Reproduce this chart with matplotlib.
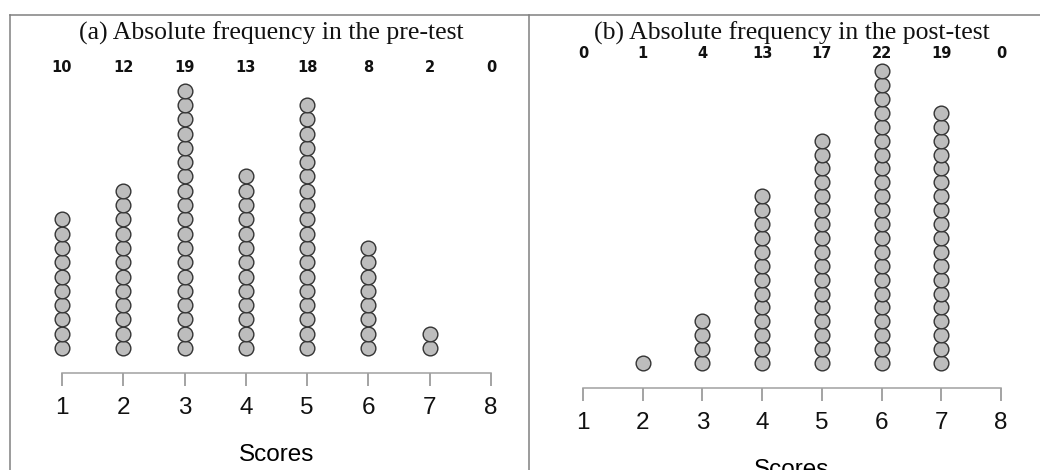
import matplotlib
matplotlib.use('Agg')
import matplotlib.pyplot as plt
from matplotlib.lines import Line2D

SCORES = [1, 2, 3, 4, 5, 6, 7, 8]
PRE_COUNTS = [10, 12, 19, 13, 18, 8, 2, 0]
POST_COUNTS = [0, 1, 4, 13, 17, 22, 19, 0]
TITLES = ['(a) Absolute frequency in the pre-test',
          '(b) Absolute frequency in the post-test']
XLABEL = 'Scores'

W, H = 1040, 470
DPI = 100

fig = plt.figure(figsize=(W / DPI, H / DPI), dpi=DPI)
fig.patch.set_facecolor('white')

# layout in pixels: left, right, axis line y, count label y, dot spacing, title x
panels = [
    dict(left=62, right=491, base=373, top=68, step=14.3, title_x=271,
         counts=PRE_COUNTS, title=TITLES[0]),
    dict(left=583, right=1001, base=388, top=53, step=13.9, title_x=792,
         counts=POST_COUNTS, title=TITLES[1]),
]

for p in panels:
    ax = fig.add_axes([p['left'] / W, (H - p['base']) / H,
                       (p['right'] - p['left']) / W, (p['base'] - p['top']) / H])
    height_px = p['base'] - p['top']
    y0 = -25 / p['step']
    ax.set_ylim(y0, y0 + height_px / p['step'])
    ax.set_xlim(1, 8)

    xs, ys = [], []
    for s, n in zip(SCORES, p['counts']):
        xs += [s] * n
        ys += list(range(n))
    ax.scatter(xs, ys, s=112, facecolor='#bdbdbd', edgecolor='#333333',
               linewidth=1.0, clip_on=False, zorder=3)

    for s, n in zip(SCORES, p['counts']):
        ax.text(s, 1.0, str(n), transform=ax.get_xaxis_transform(),
                ha='center', va='center', fontsize=10.5, fontweight='bold',
                family='DejaVu Sans', color='#111111')

    for side in ['top', 'left', 'right']:
        ax.spines[side].set_visible(False)
    ax.spines['bottom'].set_color('#a0a0a0')
    ax.spines['bottom'].set_linewidth(1.1)
    ax.set_yticks([])
    ax.set_xticks(SCORES)
    ax.set_xticklabels([str(s) for s in SCORES], family='Liberation Sans')
    ax.tick_params(axis='x', direction='out', length=9.4, width=1.1,
                   color='#8a8a8a', labelsize=17.5, pad=8, labelcolor='#111111')
    ax.set_xlabel(XLABEL, fontsize=17.5, family='Liberation Sans', labelpad=18)
    ax.patch.set_visible(False)

    fig.text(p['title_x'] / W, (H - 33) / H, p['title'], ha='center', va='center',
             fontsize=18.5, family='Liberation Serif', color='#111111')

# outer frame lines
frame = dict(color='#808080', linewidth=1.1)
fig.add_artist(Line2D([10 / W, 1.0], [(H - 15) / H] * 2, **frame))
fig.add_artist(Line2D([10 / W] * 2, [0, (H - 15) / H], **frame))
fig.add_artist(Line2D([529 / W] * 2, [0, (H - 15) / H], **frame))

plt.savefig('out.png', dpi=DPI)
plt.close()
